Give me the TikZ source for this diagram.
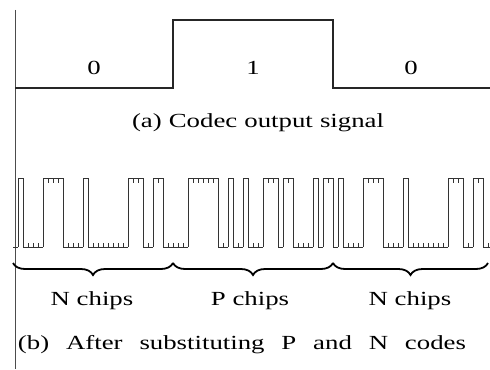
\documentclass[tikz,border=0pt]{standalone}
\usepackage{fontspec}
\setmainfont{Liberation Serif}[FakeStretch=1.34]
\usetikzlibrary{decorations.pathreplacing}

\tikzstyle{axis} = [draw=black!70, line width=0.5pt]
\tikzstyle{level} = [draw=black!85, line width=0.55pt]
\tikzstyle{wave} = [draw=black!80, line width=0.5pt]
\tikzstyle{tick} = [draw=black!80, line width=0.4pt]
\tikzstyle{brace} = [
    decorate,
    decoration={brace, mirror, amplitude=6pt},
    line width=0.9pt
]
\tikzstyle{label} = [inner sep=0pt]

\newcommand{\spreadto}[2]{\makebox[#1][s]{#2}}

% 32 chips per code
\def\chipsN{0,1,0,0,0,0,1,1,1,1,0,0,0,0,1,0,0,0,0,0,0,0,0,1,1,1,0,0,1,1,0,0}
\def\chipsP{0,0,0,1,1,1,1,1,1,0,0,1,0,0,1,0,0,0,1,1,1,0,1,1,0,0,0,0,1,0,1,1}
\edef\chipseq{\chipsN,\chipsP,\chipsN}

\begin{document}
\begin{tikzpicture}[x=0.5pt, y=-0.5pt]

\useasboundingbox (0,0) rectangle (490,369);

\draw [axis] (15,10) -- (15,369);

% codec output
\coordinate (b0) at (15,88);
\coordinate (b1) at (173,88);
\coordinate (b2) at (333,88);
\coordinate (b3) at (490,88);
\draw [level] (b0) -- (b1) -- (173,20) -- (333,20) -- (b2) -- (b3);

\node (bitA) [label] at (94,68) {0};
\node (bitB) [label] at (253,68) {1};
\node (bitC) [label] at (411,68) {0};

\node (capA) [label] at (258,123)
{\spreadto{126pt}{(a) Codec output signal}};

% chip waveform
\xdef\prevchip{2}
\foreach \b [count=\k from 0] in \chipseq {
    \pgfmathsetmacro{\xa}{13+5*\k}
    \pgfmathsetmacro{\ya}{\b==1 ? 178 : 247}
    \pgfmathsetmacro{\yt}{\b==1 ? 182.5 : 242.5}
    \draw [wave] (\xa,\ya) -- ++(5,0);
    \ifnum\prevchip=2\relax
    \else\ifnum\b=\prevchip\relax
        \draw [tick] (\xa,\ya) -- (\xa,\yt);
    \else
        \draw [wave] (\xa,178) -- (\xa,247);
    \fi\fi
    \xdef\prevchip{\b}
}

% braces
\coordinate (c0) at (13,263);
\coordinate (c1) at (173,263);
\coordinate (c2) at (333,263);
\coordinate (c3) at (488,263);
\draw [brace] (c0) -- (c1);
\draw [brace] (c1) -- (c2);
\draw [brace] (c2) -- (c3);

\node (codeN1) [label] at (92,301) {N chips};
\node (codeP) [label] at (250,301) {P chips};
\node (codeN2) [label] at (410,301) {N chips};

\node (capB) [label] at (242,345)
{\spreadto{224pt}{(b) After substituting P and N codes}};

\end{tikzpicture}
\end{document}
